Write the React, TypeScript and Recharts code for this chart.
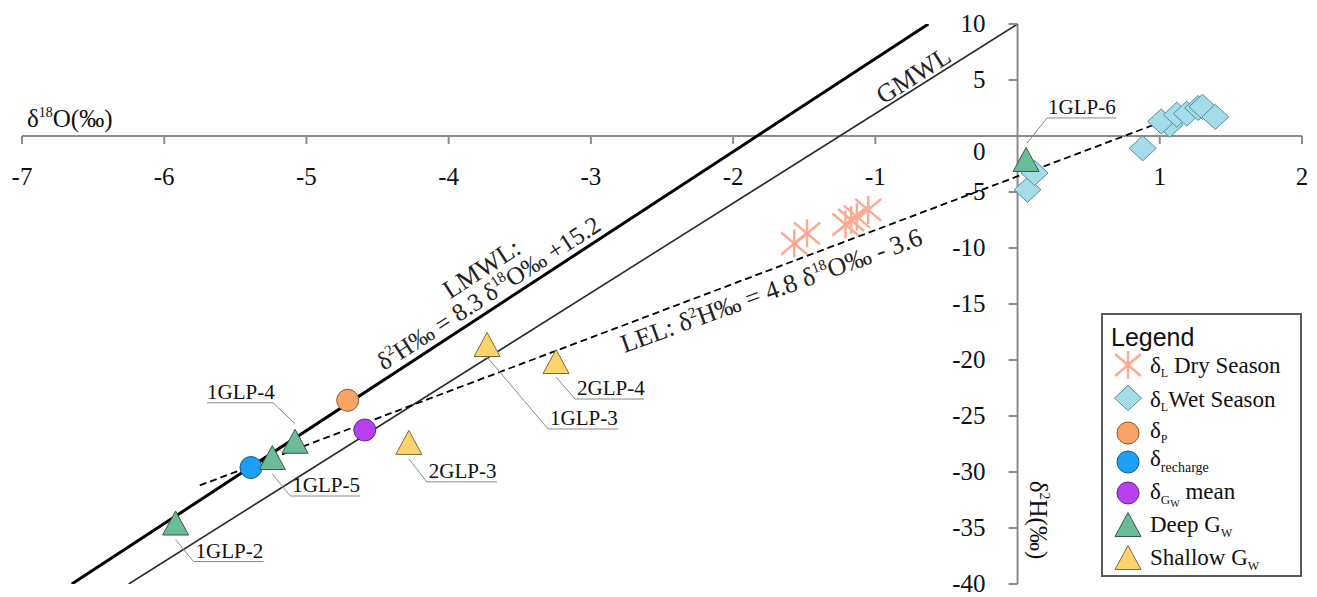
import { ScatterChart, Scatter, XAxis, YAxis, ReferenceLine } from "recharts";

const W = 1317;
const H = 597;
const M = { top: 24, right: 15, bottom: 12, left: 21 };
const X_DOMAIN: [number, number] = [-7, 2];
const Y_DOMAIN: [number, number] = [-40, 10];
const xTicks = [-7, -6, -5, -4, -3, -2, -1, 0, 1, 2];
const yTicks = [-40, -35, -30, -25, -20, -15, -10, -5, 0, 5, 10];

// values (δ18O, δ2H)
const drySeason = [
  { x: -1.57, y: -9.6 },
  { x: -1.48, y: -8.7 },
  { x: -1.21, y: -7.9 },
  { x: -1.17, y: -7.5 },
  { x: -1.13, y: -7.2 },
  { x: -1.05, y: -6.6 },
];
const wetSeason = [
  { x: 0.07, y: -4.8 },
  { x: 0.12, y: -3.3 },
  { x: 0.88, y: -1.1 },
  { x: 1.07, y: 1.0 },
  { x: 1.01, y: 1.3 },
  { x: 1.12, y: 1.9 },
  { x: 1.19, y: 2.0 },
  { x: 1.27, y: 2.5 },
  { x: 1.3, y: 2.6 },
  { x: 1.39, y: 1.7 },
];
const precipitation = [{ x: -4.71, y: -23.6 }];
const recharge = [{ x: -5.39, y: -29.6 }];
const gwMean = [{ x: -4.59, y: -26.25 }];
const deepGw = [
  { x: -5.92, y: -34.6, name: "1GLP-2" },
  { x: -5.24, y: -28.75, name: "1GLP-5" },
  { x: -5.08, y: -27.3, name: "1GLP-4" },
  { x: 0.06, y: -2.14, name: "1GLP-6" },
];
const shallowGw = [
  { x: -3.73, y: -18.66, name: "1GLP-3" },
  { x: -3.245, y: -20.18, name: "2GLP-4" },
  { x: -4.28, y: -27.4, name: "2GLP-3" },
];

// fitted lines, end points
const lmwl = [{ x: -6.65, y: -40 }, { x: -0.627, y: 10 }];
const gmwl = [{ x: -6.25, y: -40 }, { x: 0, y: 10 }];
const lel = [{ x: -5.75, y: -31.2 }, { x: 0.95, y: 0.96 }];

const SERIF = "'Liberation Serif', 'Times New Roman', serif";
const SANS = "'Liberation Sans', Arial, sans-serif";

// plot box: margin + 1px axis size on left/bottom
const PL = M.left + 1;
const PT = M.top;
const plotW = W - PL - M.right;
const plotH = H - PT - M.bottom - 1;
const px = (x: number) => PL + ((x - X_DOMAIN[0]) / (X_DOMAIN[1] - X_DOMAIN[0])) * plotW;
const py = (y: number) => PT + ((Y_DOMAIN[1] - y) / (Y_DOMAIN[1] - Y_DOMAIN[0])) * plotH;
const X0 = px(0);
const Y0 = py(0);

const C = {
  dry: "#fbab94",
  wetFill: "#a6dce9",
  wetStroke: "#4f8d9b",
  orange: "#f9a465",
  orangeStroke: "#8b5a30",
  blue: "#1aa0f2",
  blueStroke: "#1a5c8c",
  purple: "#b940ef",
  purpleStroke: "#5e2a7a",
  green: "#6cbb98",
  greenStroke: "#2f5d48",
  yellow: "#fdd36e",
  yellowStroke: "#7d6a35",
  axis: "#8c8c8c",
};

// label callouts: leader line points relative to marker, text start/baseline
const callouts: Record<string, { pts: number[][]; tx: number; ty: number }> = {
  "1GLP-2": { pts: [[0, 16], [18, 38], [88, 38]], tx: 20, ty: 34 },
  "1GLP-5": { pts: [[0, 16], [18, 38], [88, 38]], tx: 20, ty: 34 },
  "2GLP-3": { pts: [[0, 16], [18, 39], [88, 39]], tx: 20, ty: 35 },
  "2GLP-4": { pts: [[0, 15], [19, 37], [88, 37]], tx: 21, ty: 33 },
  "1GLP-3": { pts: [[0, 12], [61, 84], [131, 84]], tx: 63, ty: 80 },
  "1GLP-4": { pts: [[0, -18], [-22, -39], [-88, -39]], tx: -88, ty: -43 },
  "1GLP-6": { pts: [[1, -17], [21, -42], [90, -42]], tx: 22, ty: -46 },
};

function Diamond({ cx, cy }: any) {
  return (
    <polygon
      points={`${cx},${cy - 12.5} ${cx + 13.5},${cy} ${cx},${cy + 12.5} ${cx - 13.5},${cy}`}
      fill={C.wetFill}
      stroke={C.wetStroke}
      strokeWidth={1}
    />
  );
}

function Star({ cx, cy }: any) {
  return (
    <g stroke={C.dry} strokeWidth={2.5} strokeLinecap="butt">
      <line x1={cx} y1={cy - 14} x2={cx} y2={cy + 14} />
      <line x1={cx - 13} y1={cy - 11} x2={cx + 13} y2={cy + 11} />
      <line x1={cx - 13} y1={cy + 11} x2={cx + 13} y2={cy - 11} />
    </g>
  );
}

function Dot({ cx, cy, fill, stroke }: any) {
  return <circle cx={cx} cy={cy} r={11} fill={fill} stroke={stroke} strokeWidth={1} />;
}

function Tri({ cx, cy, fill, stroke }: any) {
  return (
    <polygon
      points={`${cx},${cy - 12.5} ${cx + 13},${cy + 11.5} ${cx - 13},${cy + 11.5}`}
      fill={fill}
      stroke={stroke}
      strokeWidth={1}
    />
  );
}

function LabelledTri(props: any) {
  const { cx, cy, payload } = props;
  const c = callouts[payload?.name];
  return (
    <g>
      {c && (
        <g>
          <polyline
            points={c.pts.map(([dx, dy]) => `${cx + dx},${cy + dy}`).join(" ")}
            fill="none"
            stroke="#8a8a8a"
            strokeWidth={1}
          />
          <text x={cx + c.tx} y={cy + c.ty} style={{ fontFamily: SERIF }} fontSize={21} fill="#111">
            {payload.name}
          </text>
        </g>
      )}
      <Tri {...props} />
    </g>
  );
}

function XTick({ x, payload }: any) {
  if (payload.value === 0) return <g />;
  return (
    <g>
      <line x1={x} y1={Y0} x2={x} y2={Y0 + 8} stroke={C.axis} strokeWidth={2} />
      <text x={x} y={Y0 + 49} textAnchor="middle" style={{ fontFamily: SERIF }} fontSize={25} fill="#111">
        {payload.value}
      </text>
    </g>
  );
}

function YTick({ y, payload }: any) {
  const shift = payload.value === 0 ? 16 : 0;
  return (
    <g>
      <line x1={X0 - 9} y1={y} x2={X0} y2={y} stroke={C.axis} strokeWidth={2} />
      <text x={X0 - 32} y={y + 8 + shift} textAnchor="end" style={{ fontFamily: SERIF }} fontSize={25} fill="#111">
        {payload.value}
      </text>
    </g>
  );
}

const noShape = () => <g />;

function Annotations() {
  const rot = (x: number, y: number, a: number) => `translate(${px(x)},${py(y)}) rotate(${a})`;
  return (
    <g style={{ fontFamily: SERIF }} fill="#222">
      <text transform={rot(-3.77, -11.8, -33)} textAnchor="middle" dy="0.35em" fontSize={26}>
        LMWL:
      </text>
      <text transform={rot(-3.72, -14.0, -33)} textAnchor="middle" dy="0.35em" fontSize={25}>
        δ<tspan fontSize={15} dy={-10}>2</tspan>
        <tspan dy={10}>H‰ = 8.3 δ</tspan>
        <tspan fontSize={15} dy={-10}>18</tspan>
        <tspan dy={10}>O‰ +15.2</tspan>
      </text>
      <text transform={rot(-0.734, 5.45, -32.5)} textAnchor="middle" dy="0.35em" fontSize={26}>
        GMWL
      </text>
      <text transform={rot(-1.733, -13.75, -20)} textAnchor="middle" dy="0.35em" fontSize={26}>
        LEL: δ<tspan fontSize={15} dy={-10}>2</tspan>
        <tspan dy={10}>H‰ = 4.8 δ</tspan>
        <tspan fontSize={15} dy={-10}>18</tspan>
        <tspan dy={10}>O‰ - 3.6</tspan>
      </text>

      {/* axis titles */}
      <text x={27} y={127} fontSize={25} fill="#111">
        δ<tspan fontSize={14} dy={-10}>18</tspan>
        <tspan dy={10}>O(‰)</tspan>
      </text>
      <text transform={`translate(${X0 + 12},520) rotate(90)`} textAnchor="middle" fontSize={25} fill="#111">
        δ<tspan fontSize={14} dy={-10}>2</tspan>
        <tspan dy={10}>H(‰)</tspan>
      </text>
    </g>
  );
}

function LegendBox() {
  const lx = 1128;
  const tx = 1150;
  const fs = 23;
  return (
    <g style={{ fontFamily: SERIF }} fill="#111">
      <rect x={1102} y={314} width={199} height={262} fill="#fff" stroke="#595959" strokeWidth={2} />
      <text x={1111} y={346} style={{ fontFamily: SANS }} fontSize={25}>
        Legend
      </text>

      <Star cx={lx} cy={365} />
      <text x={tx} y={373} fontSize={fs}>
        δ<tspan fontSize={12} dy={4}>L</tspan>
        <tspan dy={-4}> Dry Season</tspan>
      </text>

      <Diamond cx={lx} cy={398} />
      <text x={tx} y={407} fontSize={fs}>
        δ<tspan fontSize={12} dy={4}>L</tspan>
        <tspan dy={-4}>Wet Season</tspan>
      </text>

      <Dot cx={lx} cy={433} fill={C.orange} stroke={C.orangeStroke} />
      <text x={tx} y={438} fontSize={fs}>
        δ<tspan fontSize={12} dy={5}>P</tspan>
      </text>

      <Dot cx={lx} cy={462} fill={C.blue} stroke={C.blueStroke} />
      <text x={tx} y={466} fontSize={fs}>
        δ<tspan fontSize={14} dy={6}>recharge</tspan>
      </text>

      <Dot cx={lx} cy={493} fill={C.purple} stroke={C.purpleStroke} />
      <text x={tx} y={499} fontSize={fs}>
        δ<tspan fontSize={13} dy={5}>G</tspan>
        <tspan fontSize={10} dy={3}>W</tspan>
        <tspan dy={-8}> mean</tspan>
      </text>

      <Tri cx={lx} cy={525} fill={C.green} stroke={C.greenStroke} />
      <text x={tx} y={532} fontSize={fs}>
        Deep G<tspan fontSize={12} dy={5}>W</tspan>
      </text>

      <Tri cx={lx} cy={558} fill={C.yellow} stroke={C.yellowStroke} />
      <text x={tx} y={565} fontSize={fs}>
        Shallow G<tspan fontSize={12} dy={5}>W</tspan>
      </text>
    </g>
  );
}

export default function App() {
  return (
    <div style={{ width: W, height: H, background: "#fff" }}>
      <style>{"body{margin:0;background:#fff}"}</style>
      <ScatterChart width={W} height={H} margin={M}>
        <XAxis
          type="number"
          dataKey="x"
          domain={X_DOMAIN}
          ticks={xTicks}
          interval={0}
          allowDataOverflow
          height={1}
          axisLine={false}
          tickLine={false}
          tick={(p: any) => <XTick {...p} />}
        />
        <YAxis
          type="number"
          dataKey="y"
          domain={Y_DOMAIN}
          ticks={yTicks}
          interval={0}
          allowDataOverflow
          width={1}
          axisLine={false}
          tickLine={false}
          tick={(p: any) => <YTick {...p} />}
        />
        <ReferenceLine y={0} stroke={C.axis} strokeWidth={2} />
        <ReferenceLine x={0} stroke={C.axis} strokeWidth={2} />

        <Scatter name="LMWL" data={lmwl} line={{ stroke: "#000", strokeWidth: 3 }} shape={noShape} legendType="none" isAnimationActive={false} />
        <Scatter name="GMWL" data={gmwl} line={{ stroke: "#2a2a2a", strokeWidth: 1.6 }} shape={noShape} legendType="none" isAnimationActive={false} />
        <Scatter name="LEL" data={lel} line={{ stroke: "#000", strokeWidth: 1.8, strokeDasharray: "7 4" }} shape={noShape} legendType="none" isAnimationActive={false} />

        <Scatter name="δL Dry Season" data={drySeason} shape={(p: any) => <Star {...p} />} isAnimationActive={false} />
        <Scatter name="δL Wet Season" data={wetSeason} shape={(p: any) => <Diamond {...p} />} isAnimationActive={false} />
        <Scatter name="δP" data={precipitation} shape={(p: any) => <Dot {...p} fill={C.orange} stroke={C.orangeStroke} />} isAnimationActive={false} />
        <Scatter name="δrecharge" data={recharge} shape={(p: any) => <Dot {...p} fill={C.blue} stroke={C.blueStroke} />} isAnimationActive={false} />
        <Scatter name="δGW mean" data={gwMean} shape={(p: any) => <Dot {...p} fill={C.purple} stroke={C.purpleStroke} />} isAnimationActive={false} />
        <Scatter name="Deep GW" data={deepGw} shape={(p: any) => <LabelledTri {...p} fill={C.green} stroke={C.greenStroke} />} isAnimationActive={false} />
        <Scatter name="Shallow GW" data={shallowGw} shape={(p: any) => <LabelledTri {...p} fill={C.yellow} stroke={C.yellowStroke} />} isAnimationActive={false} />

        <Annotations />
        <LegendBox />
      </ScatterChart>
    </div>
  );
}
